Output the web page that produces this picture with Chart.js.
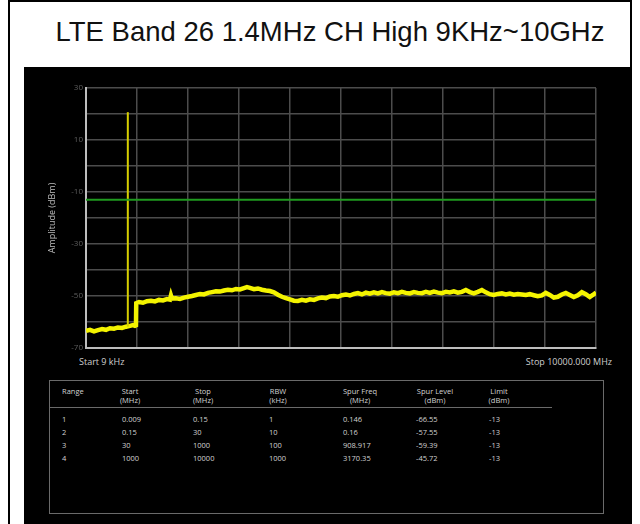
<!DOCTYPE html>
<html>
<head>
<meta charset="utf-8">
<script src="https://cdn.jsdelivr.net/npm/chart.js@4.4.1/dist/chart.umd.min.js"></script>
<style>
  html,body{margin:0;padding:0;background:#fff;}
  #page{position:relative;width:640px;height:524px;overflow:hidden;background:#fff;font-family:"Liberation Sans",Arial,sans-serif;}
  .frameL{position:absolute;left:8px;top:0;width:2px;height:524px;background:#000;}
  .frameR{position:absolute;left:630px;top:0;width:2px;height:524px;background:#000;}
  .frameT{position:absolute;left:8px;top:0;width:624px;height:2px;background:#000;}
  #title{position:absolute;left:20px;width:620px;top:16px;text-align:center;font-size:27.5px;line-height:32px;color:#111;}
  #panel{position:absolute;left:24px;top:67px;width:608px;height:457px;background:#000;}
  canvas{position:absolute;left:0;top:0;}
  .lbl{position:absolute;color:#cfcfcf;font-size:9px;font-family:"Open Sans","Liberation Sans",sans-serif;white-space:nowrap;}
  #tbl{position:absolute;left:49px;top:380px;width:553px;height:132px;border:1px solid #6a6a6a;}
  #sep{position:absolute;left:49px;top:407px;width:503px;height:1px;background:#6a6a6a;}
  .t{position:absolute;color:#d2d2d2;font-size:7.5px;line-height:9px;font-family:"Open Sans","Liberation Sans",sans-serif;white-space:nowrap;}
  .h{text-align:center;transform:translateX(-50%);}
</style>
</head>
<body>
<div id="page">
  <div class="frameT"></div>
  <div class="frameL"></div>
  <div class="frameR"></div>
  <div id="title">LTE Band 26 1.4MHz CH High 9KHz~10GHz</div>
  <div id="panel"></div>
  <div class="lbl" style="left:79px;top:355px;">Start 9 kHz</div>
  <div class="lbl" style="right:28px;top:355px;">Stop 10000.000 MHz</div>
  <div id="tbl"></div>
  <div id="sep"></div>
  <div id="tableText"></div>
  <canvas id="c" width="640" height="524"></canvas>
</div>
<script>
// ---- data ----
const yTickLabels = [30, 10, -10, -30, -50, -70];
const limitFreq = [0, 10000];
const limitLevel = [-13, -13];
const spurFreq = [820, 820];
const spurLevel = [-61.8, 20.7];
const traceFreq = [0,78,157,235,314,392,470,549,627,706,784,862,921,960,980,985,
  1039,1117,1196,1274,1352,1431,1509,1588,1646,1666,1686,1764,1842,1921,1999,2078,2156,2234,2313,2391,
  2470,2548,2626,2705,2783,2862,2940,3018,3097,3156,3214,3293,3371,3450,3528,3606,3685,3763,3842,3920,
  3998,4077,4155,4234,4312,4390,4470,4547,4626,4704,4782,4861,4939,5018,5096,5174,5253,5331,5410,5488,
  5566,5645,5723,5802,5880,5958,6037,6115,6194,6272,6350,6429,6507,6586,6664,6742,6821,6899,6978,7056,
  7134,7213,7291,7370,7448,7526,7605,7683,7762,7840,7918,7997,8075,8154,8232,8310,8389,8467,8546,8624,
  8702,8781,8859,8938,9016,9094,9173,9251,9330,9408,9486,9565,9643,9722,9800,9878,9937,10000];
const traceLevel = [-63.4,-63.0,-63.6,-63.1,-62.7,-63.0,-62.4,-62.6,-62.1,-62.3,-61.8,-61.5,-61.2,-61.5,-61.3,-52.8,
  -52.3,-52.6,-52.0,-51.8,-52.1,-51.5,-51.7,-51.2,-51.4,-49.8,-51.0,-50.9,-51.1,-50.6,-50.3,-50.0,-49.6,-49.2,-49.4,-48.8,
  -48.5,-48.2,-48.3,-47.9,-47.6,-47.8,-47.3,-47.5,-47.0,-46.6,-46.9,-47.4,-47.1,-47.6,-47.9,-48.1,-48.6,-49.5,-50.3,-50.8,
  -51.3,-51.8,-51.9,-51.5,-51.8,-51.3,-51.5,-50.9,-50.6,-50.8,-50.2,-50.0,-50.3,-49.7,-49.4,-49.8,-49.2,-48.9,-49.4,-48.7,
  -49.1,-48.6,-49.0,-48.5,-48.9,-49.1,-48.6,-48.9,-48.4,-48.8,-49.0,-48.5,-48.8,-48.9,-48.4,-48.8,-48.3,-48.7,-48.9,-48.4,
  -48.6,-48.2,-48.7,-48.4,-47.7,-48.5,-49.0,-48.4,-47.7,-48.6,-49.3,-49.6,-49.2,-49.0,-49.4,-49.1,-49.5,-49.2,-49.4,-49.6,
  -49.3,-49.7,-50.1,-49.8,-48.8,-49.6,-50.6,-50.3,-49.4,-48.8,-49.6,-50.4,-49.7,-48.5,-49.3,-50.4,-49.6,-48.7];

// table
const tableHeaders = ["Range", "Start\n(MHz)", "Stop\n(MHz)", "RBW\n(kHz)", "Spur Freq\n(MHz)", "Spur Level\n(dBm)", "Limit\n(dBm)"];
const tableRange = ["1", "2", "3", "4"];
const tableStart = ["0.009", "0.15", "30", "1000"];
const tableStop = ["0.15", "30", "1000", "10000"];
const tableRBW = ["1", "10", "100", "1000"];
const tableSpurFreq = ["0.146", "0.16", "908.917", "3170.35"];
const tableSpurLevel = ["-66.55", "-57.55", "-59.39", "-45.72"];
const tableLimit = ["-13", "-13", "-13", "-13"];

// ---- table layout ----
const colLeft = [62, 122, 193, 269, 343, 416, 489];
const colCenter = [null, 130, 203, 278, 360, 435, 499];
const rowTop = [415, 428, 441, 454];
const tt = document.getElementById('tableText');
tableHeaders.forEach((h, i) => {
  const d = document.createElement('div');
  d.className = 't' + (i === 0 ? '' : ' h');
  d.style.left = (i === 0 ? colLeft[i] : colCenter[i]) + 'px';
  d.style.top = '387px';
  d.innerHTML = h.replace('\n', '<br>');
  tt.appendChild(d);
});
const cols = [tableRange, tableStart, tableStop, tableRBW, tableSpurFreq, tableSpurLevel, tableLimit];
cols.forEach((col, ci) => {
  col.forEach((v, ri) => {
    const d = document.createElement('div');
    d.className = 't';
    d.style.left = colLeft[ci] + 'px';
    d.style.top = rowTop[ri] + 'px';
    d.textContent = v;
    tt.appendChild(d);
  });
});

// ---- chart ----
const toXY = (xs, ys) => xs.map((x, i) => ({x: x, y: ys[i]}));
const gridColor = '#4c4c4c';
new Chart(document.getElementById('c'), {
  type: 'line',
  data: {
    datasets: [
      {label: 'Limit', data: toXY(limitFreq, limitLevel), borderColor: '#1f9a1f', borderWidth: 2, pointRadius: 0},
      {label: 'Spur', data: toXY(spurFreq, spurLevel), borderColor: '#d6ce00', borderWidth: 2, pointRadius: 0},
      {label: 'Trace', data: toXY(traceFreq, traceLevel), borderColor: '#f4f400', borderWidth: 4.5, pointRadius: 0, tension: 0}
    ]
  },
  options: {
    responsive: false,
    animation: false,
    devicePixelRatio: 1,
    layout: {padding: {left: 0, right: 44, top: 88, bottom: 166}},
    plugins: {legend: {display: false}, tooltip: {enabled: false}},
    scales: {
      x: {
        type: 'linear', min: 0, max: 10000,
        ticks: {display: false, stepSize: 1000},
        grid: {color: gridColor, lineWidth: 1.5, drawTicks: false},
        border: {color: '#bdbdbd', width: 2},
        afterFit(s) { s.height = 10; }
      },
      y: {
        type: 'linear', min: -70, max: 30,
        ticks: {
          stepSize: 10, color: '#5e5e5e', padding: 3,
          font: {size: 8, family: 'Open Sans'},
          callback: (v) => yTickLabels.includes(v) ? String(v) : ''
        },
        grid: {color: gridColor, lineWidth: 1.5, drawTicks: false},
        border: {color: '#bdbdbd', width: 2},
        title: {display: true, text: 'Amplitude (dBm)', color: '#bdbdbd', font: {size: 9, family: 'Open Sans'}, padding: {top: 47, bottom: 0}},
        afterFit(s) { s.width = 86; }
      }
    }
  }
});
</script>
</body>
</html>
